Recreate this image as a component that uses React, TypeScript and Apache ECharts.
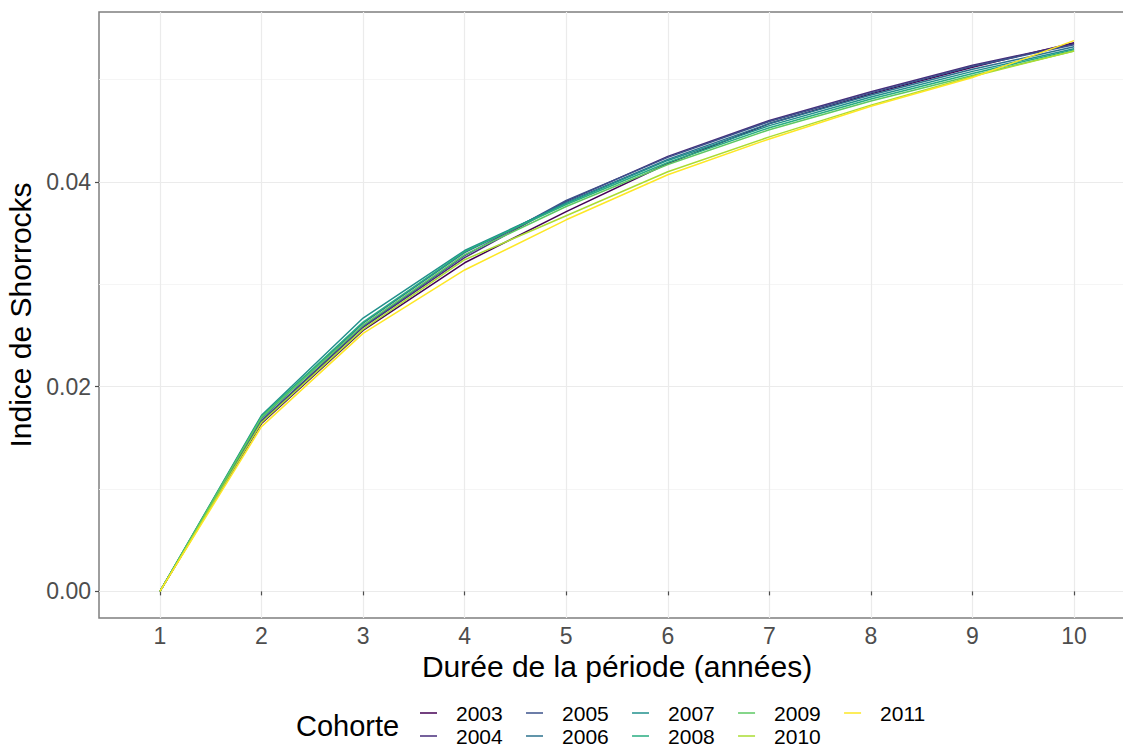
import React, { useEffect, useRef } from "react";
import * as echarts from "echarts";

const durations = [1, 2, 3, 4, 5, 6, 7, 8, 9, 10];
const cohorts = ["2003", "2004", "2005", "2006", "2007", "2008", "2009", "2010", "2011"];
const cohortColors = ["#440154", "#472D7B", "#3B528B", "#2C728E", "#21908C", "#27AD81", "#5DC863", "#AADC32", "#FDE725"];

const v2003 = [0, 0.0164, 0.0255, 0.0321, 0.0371, 0.0418, 0.0457, 0.0486, 0.0512, 0.0536];
const v2004 = [0, 0.0166, 0.0258, 0.0326, 0.0381, 0.0425, 0.0460, 0.0488, 0.0514, 0.0535];
const v2005 = [0, 0.0167, 0.0259, 0.0328, 0.0382, 0.0424, 0.0459, 0.0487, 0.0513, 0.0534];
const v2006 = [0, 0.0169, 0.0262, 0.0331, 0.0380, 0.0422, 0.0457, 0.0485, 0.0510, 0.0532];
const v2007 = [0, 0.0172, 0.0267, 0.0333, 0.0379, 0.0421, 0.0455, 0.0483, 0.0508, 0.0530];
const v2008 = [0, 0.0171, 0.0263, 0.0332, 0.0378, 0.0419, 0.0453, 0.0481, 0.0506, 0.0529];
const v2009 = [0, 0.0170, 0.0260, 0.0329, 0.0376, 0.0417, 0.0451, 0.0479, 0.0504, 0.0528];
const v2010 = [0, 0.0165, 0.0256, 0.0324, 0.0367, 0.0410, 0.0444, 0.0475, 0.0503, 0.0528];
const v2011 = [0, 0.0161, 0.0252, 0.0314, 0.0363, 0.0407, 0.0442, 0.0474, 0.0502, 0.0538];
const cohortValues = [v2003, v2004, v2005, v2006, v2007, v2008, v2009, v2010, v2011];

const yMajorTicks = [0, 0.02, 0.04];
const yMinorTicks = [0.01, 0.03, 0.05];
const legendRow1 = ["2003", "2005", "2007", "2009", "2011"];
const legendRow2 = ["2004", "2006", "2008", "2010"];

const FONT = "'Liberation Sans', Arial, sans-serif";

export default function App() {
  const ref = useRef<HTMLDivElement>(null);
  useEffect(() => {
    if (!ref.current) return;
    const chart = echarts.init(ref.current, undefined, { renderer: "svg" });
    const legendBase = {
      orient: "horizontal",
      left: 420,
      padding: 0,
      icon: "rect",
      itemWidth: 17,
      itemHeight: 1.5,
      itemGap: 23.3,
      selectedMode: false,
      textStyle: { fontSize: 21, lineHeight: 21, color: "#000", fontFamily: FONT, padding: [0, 0, 0, 14] },
    };
    chart.setOption({
      animation: false,
      backgroundColor: "#fff",
      textStyle: { fontFamily: FONT },
      grid: {
        left: 99,
        top: 12,
        width: 1036,
        height: 606,
        containLabel: false,
        outerBoundsMode: "none",
        show: true,
        borderColor: "#7F7F7F",
        borderWidth: 1.5,
        backgroundColor: "transparent",
      },
      xAxis: {
        type: "value",
        min: 0.4,
        max: 10.6,
        name: "Durée de la période (années)",
        nameLocation: "middle",
        nameGap: 28,
        nameTextStyle: { fontSize: 30, lineHeight: 30, color: "#000", fontFamily: FONT },
        axisLine: { show: false },
        axisTick: { show: true, length: 4, customValues: durations, lineStyle: { color: "#4D4D4D", width: 1.2 } },
        axisLabel: { customValues: durations, fontSize: 23, lineHeight: 23, color: "#4D4D4D", margin: 6, fontFamily: FONT },
        splitLine: { show: true, lineStyle: { color: "#EBEBEB", width: 1.2 } },
      },
      yAxis: [
        {
          type: "value",
          min: -0.0026,
          max: 0.0566,
          name: "Indice de Shorrocks",
          nameLocation: "middle",
          nameGap: 60,
          nameTextStyle: { fontSize: 30, lineHeight: 30, color: "#000", fontFamily: FONT },
          axisLine: { show: false },
          axisTick: { show: true, length: 4, customValues: yMajorTicks, lineStyle: { color: "#4D4D4D", width: 1.2 } },
          axisLabel: {
            customValues: yMajorTicks,
            fontSize: 23,
            color: "#4D4D4D",
            margin: 8,
            fontFamily: FONT,
            formatter: (v: number) => v.toFixed(2),
          },
          splitLine: { show: true, lineStyle: { color: "#EBEBEB", width: 1.2 } },
        },
        {
          type: "value",
          min: -0.0026,
          max: 0.0566,
          position: "left",
          axisLine: { show: false },
          axisTick: { show: false, customValues: yMinorTicks },
          axisLabel: { show: false, customValues: yMinorTicks },
          splitLine: { show: true, lineStyle: { color: "#F4F4F4", width: 0.9 } },
        },
      ],
      legend: [
        { ...legendBase, top: 702.5, data: legendRow1 },
        { ...legendBase, top: 725.5, data: legendRow2 },
      ],
      graphic: [
        {
          type: "text",
          x: 296,
          y: 726,
          style: { text: "Cohorte", fontSize: 29, fontFamily: FONT, fill: "#000", verticalAlign: "middle" },
        },
      ],
      series: cohorts.map((c, i) => ({
        name: c,
        type: "line",
        yAxisIndex: 0,
        showSymbol: false,
        symbol: "none",
        color: cohortColors[i],
        lineStyle: { width: 1.5, color: cohortColors[i] },
        data: durations.map((d, j) => [d, cohortValues[i][j]]),
      })),
    });
    return () => chart.dispose();
  }, []);
  return <div ref={ref} style={{ position: "fixed", left: 0, top: 0, width: 1123, height: 749 }} />;
}
